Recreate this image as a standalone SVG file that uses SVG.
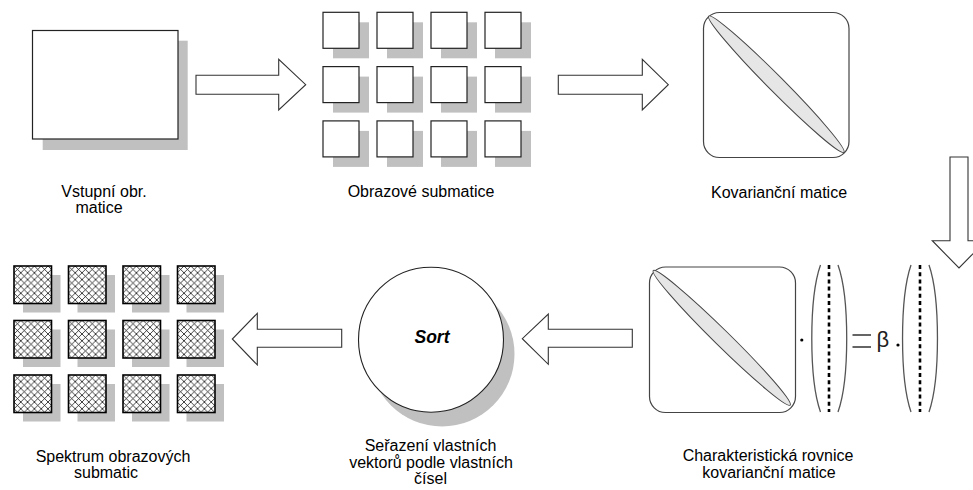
<svg xmlns="http://www.w3.org/2000/svg" width="973" height="490" viewBox="0 0 973 490">
<defs>
<pattern id="hatch" patternUnits="userSpaceOnUse" width="6.8" height="6.8" x="14" y="266">
<path d="M-1,-1 L7.8,7.8 M7.8,-1 L-1,7.8" stroke="#000" stroke-width="0.75" fill="none"/>
</pattern>
<style>
.lbl{font-family:"Liberation Sans",Arial,sans-serif;font-size:16px;fill:#000;text-anchor:middle}
.shadow{fill:#c0c0c0;stroke:none}
.box{fill:#fff;stroke:#222;stroke-width:1.2}
.hbox{fill:url(#hatch);stroke:#000;stroke-width:1.6}
.arrow{fill:#fff;stroke:#333;stroke-width:1.1}
.cov{fill:#fff;stroke:#444;stroke-width:1.2}
.diag{fill:#e6e6e6;stroke:#444;stroke-width:1}
.par{fill:none;stroke:#555;stroke-width:1.3}
.dots{fill:none;stroke:#000;stroke-width:2.6;stroke-dasharray:4 3.2}
</style>
</defs>
<rect width="973" height="490" fill="#fff"/>

<g id="vstupni">
<rect class="shadow" x="42.7" y="40.7" width="145" height="109.3"/>
<rect class="box" x="32.5" y="30.5" width="145.5" height="108.5"/>
<text class="lbl" x="104" y="197">Vstupní obr.</text>
<text class="lbl" x="99" y="213">matice</text>
</g>

<g id="submatice">
<g class="shadow">
<rect x="333" y="22.3" width="36" height="36"/><rect x="387" y="22.3" width="36" height="36"/><rect x="441" y="22.3" width="36" height="36"/><rect x="495" y="22.3" width="36" height="36"/>
<rect x="333" y="76.6" width="36" height="36"/><rect x="387" y="76.6" width="36" height="36"/><rect x="441" y="76.6" width="36" height="36"/><rect x="495" y="76.6" width="36" height="36"/>
<rect x="333" y="130.9" width="36" height="36"/><rect x="387" y="130.9" width="36" height="36"/><rect x="441" y="130.9" width="36" height="36"/><rect x="495" y="130.9" width="36" height="36"/>
</g>
<g class="box">
<rect x="323" y="12.3" width="36" height="36"/><rect x="377" y="12.3" width="36" height="36"/><rect x="431" y="12.3" width="36" height="36"/><rect x="485" y="12.3" width="36" height="36"/>
<rect x="323" y="66.6" width="36" height="36"/><rect x="377" y="66.6" width="36" height="36"/><rect x="431" y="66.6" width="36" height="36"/><rect x="485" y="66.6" width="36" height="36"/>
<rect x="323" y="120.9" width="36" height="36"/><rect x="377" y="120.9" width="36" height="36"/><rect x="431" y="120.9" width="36" height="36"/><rect x="485" y="120.9" width="36" height="36"/>
</g>
<text class="lbl" x="421" y="197">Obrazové submatice</text>
</g>

<g id="kovariancni">
<rect class="cov" x="703.5" y="12.5" width="145.5" height="145" rx="16" ry="16"/>
<ellipse class="diag" cx="776.3" cy="84.2" rx="96" ry="7.8" transform="rotate(45.2 776.3 84.2)"/>
<text class="lbl" x="779" y="198">Kovarianční matice</text>
</g>

<g id="rovnice">
<rect class="cov" x="649.5" y="267" width="146" height="145.5" rx="16" ry="16"/>
<ellipse class="diag" cx="721.7" cy="337.8" rx="96" ry="7.8" transform="rotate(44.5 721.7 337.8)"/>
<circle cx="801.8" cy="340" r="1.6" fill="#000"/>
<path class="par" d="M820.5,265 A17.5,85 0 0 0 820.5,412 M838,265 A17.5,85 0 0 1 838,412"/>
<line class="dots" x1="829" y1="265" x2="829" y2="412"/>
<path d="M852.5,335 H871 M852.5,347 H871" stroke="#333" stroke-width="1.3" fill="none"/>
<text x="876.5" y="347" font-family="'Liberation Sans',Arial,sans-serif" font-size="22" fill="#222">β</text>
<circle cx="898" cy="345" r="1.6" fill="#000"/>
<path class="par" d="M911,265 A17,85 0 0 0 911,412 M929,265 A17,85 0 0 1 929,412"/>
<line class="dots" x1="920" y1="265" x2="920" y2="412"/>
<text class="lbl" x="768" y="461">Charakteristická rovnice</text>
<text class="lbl" x="769" y="477.5">kovarianční matice</text>
</g>

<g id="sort">
<circle class="shadow" cx="442" cy="354" r="72.5"/>
<circle cx="431" cy="339.7" r="72.5" fill="#fff" stroke="#222" stroke-width="1.1"/>
<text x="432" y="343" font-family="'Liberation Sans',Arial,sans-serif" font-size="17.5" font-weight="bold" font-style="italic" text-anchor="middle" fill="#000">Sort</text>
<text class="lbl" x="430.5" y="451">Seřazení vlastních</text>
<text class="lbl" x="431" y="467.5">vektorů podle vlastních</text>
<text class="lbl" x="430.5" y="483.5">čísel</text>
</g>

<g id="spektrum">
<g class="shadow">
<rect x="23" y="275" width="37.5" height="37.5"/><rect x="77.5" y="275" width="37.5" height="37.5"/><rect x="132" y="275" width="37.5" height="37.5"/><rect x="186.5" y="275" width="37.5" height="37.5"/>
<rect x="23" y="329.5" width="37.5" height="37.5"/><rect x="77.5" y="329.5" width="37.5" height="37.5"/><rect x="132" y="329.5" width="37.5" height="37.5"/><rect x="186.5" y="329.5" width="37.5" height="37.5"/>
<rect x="23" y="384" width="37.5" height="37.5"/><rect x="77.5" y="384" width="37.5" height="37.5"/><rect x="132" y="384" width="37.5" height="37.5"/><rect x="186.5" y="384" width="37.5" height="37.5"/>
</g>
<g>
<g fill="#fff">
<rect x="14" y="266" width="37.5" height="37.5"/><rect x="68.5" y="266" width="37.5" height="37.5"/><rect x="123" y="266" width="37.5" height="37.5"/><rect x="177.5" y="266" width="37.5" height="37.5"/>
<rect x="14" y="320.5" width="37.5" height="37.5"/><rect x="68.5" y="320.5" width="37.5" height="37.5"/><rect x="123" y="320.5" width="37.5" height="37.5"/><rect x="177.5" y="320.5" width="37.5" height="37.5"/>
<rect x="14" y="375" width="37.5" height="37.5"/><rect x="68.5" y="375" width="37.5" height="37.5"/><rect x="123" y="375" width="37.5" height="37.5"/><rect x="177.5" y="375" width="37.5" height="37.5"/>
</g>
<g class="hbox">
<rect x="14" y="266" width="37.5" height="37.5"/><rect x="68.5" y="266" width="37.5" height="37.5"/><rect x="123" y="266" width="37.5" height="37.5"/><rect x="177.5" y="266" width="37.5" height="37.5"/>
<rect x="14" y="320.5" width="37.5" height="37.5"/><rect x="68.5" y="320.5" width="37.5" height="37.5"/><rect x="123" y="320.5" width="37.5" height="37.5"/><rect x="177.5" y="320.5" width="37.5" height="37.5"/>
<rect x="14" y="375" width="37.5" height="37.5"/><rect x="68.5" y="375" width="37.5" height="37.5"/><rect x="123" y="375" width="37.5" height="37.5"/><rect x="177.5" y="375" width="37.5" height="37.5"/>
</g>
</g>
<text class="lbl" x="113" y="461.5">Spektrum obrazových</text>
<text class="lbl" x="106" y="477.5">submatic</text>
</g>

<g id="connectors">
<polygon class="arrow" points="196,75.3 278.7,75.3 278.7,59.3 305.7,84.7 278.7,110 278.7,94.3 196,94.3"/>
<polygon class="arrow" points="558.3,75.3 642.3,75.3 642.3,59.3 668.3,84.7 642.3,110 642.3,94.3 558.3,94.3"/>
<polygon class="arrow" points="950,157 968,157 968,240.7 985.7,240.7 959,268 932.3,240.7 950,240.7"/>
<polygon class="arrow" points="632.3,329.3 548.3,329.3 548.3,314 522.3,338.7 548.3,364.3 548.3,347.3 632.3,347.3"/>
<polygon class="arrow" points="341.7,329.3 257.3,329.3 257.3,313.3 232.3,339 257.3,365 257.3,347.3 341.7,347.3"/>
</g>
</svg>
